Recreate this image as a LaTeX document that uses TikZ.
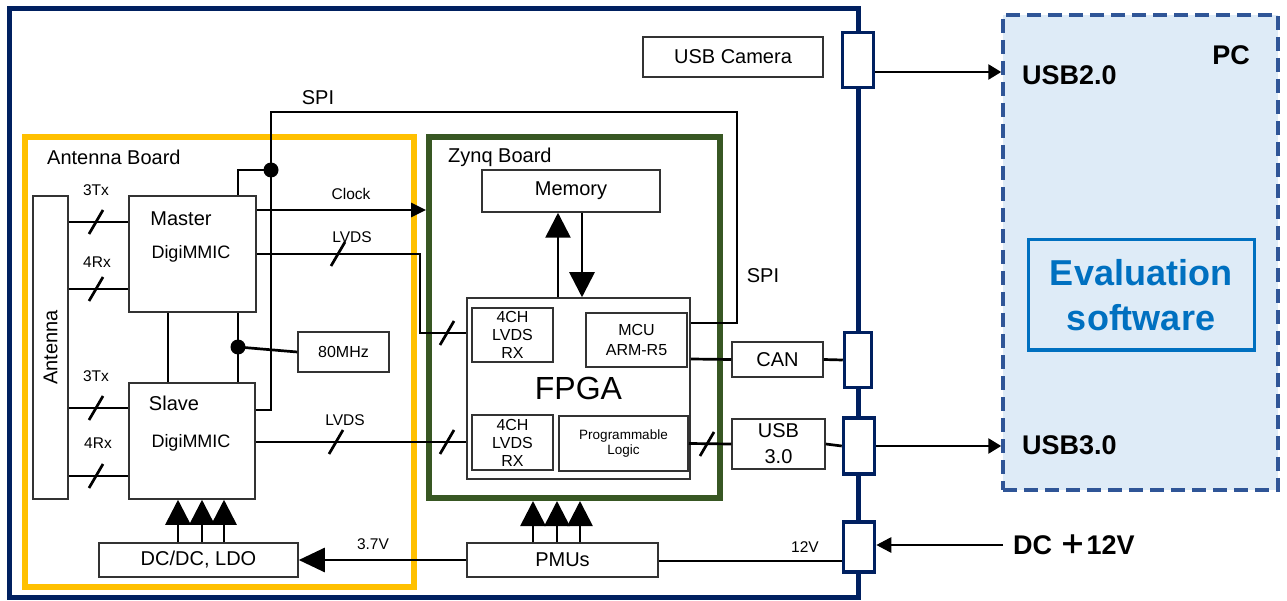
\documentclass[tikz,border=0pt]{standalone}
\usepackage{fontspec}
\setmainfont{Liberation Sans}
\newfontfamily\cjk{Noto Sans CJK SC}
\usetikzlibrary{arrows.meta}
\definecolor{navy}{RGB}{0,32,96}
\definecolor{antyellow}{RGB}{255,192,0}
\definecolor{zynqgreen}{RGB}{56,87,35}
\definecolor{pcfill}{RGB}{222,235,247}
\definecolor{pcline}{RGB}{47,85,151}
\definecolor{evblue}{RGB}{0,112,192}

\begin{document}
\begin{tikzpicture}[x=1pt,y=-1pt,font=\fontsize{20}{24}\selectfont,
  box/.style={draw=black!80,line width=1.5pt,fill=white,inner sep=0pt,align=center},
  port/.style={draw=navy,line width=3.5pt,fill=white,inner sep=0pt},
  board/.style={line width=6pt,inner sep=0pt},
  sig/.style={line width=2.7pt},
  lbl/.style={font=\fontsize{15.5}{18}\selectfont,inner sep=0pt},
  cell/.style={box,font=\fontsize{16}{18}\selectfont},
  txt/.style={inner sep=0pt},
  bold/.style={inner sep=0pt,font=\bfseries\fontsize{27}{30}\selectfont},
  pwr/.style={sig,-{Triangle[length=25pt,width=25pt]}},
  bus/.pic={\draw[sig] (-7,12) -- (7,-12);}]

\useasboundingbox (0,0) rectangle (1287,601);

% sensor casing
\draw[navy,line width=5pt] (9,9) rectangle (858,597);

% boards
\node[board,draw=antyellow,minimum width=389pt,minimum height=450pt] (antb) at (219.5,362) {};
\node[board,draw=zynqgreen,minimum width=291pt,minimum height=361pt] (zynqb) at (574.5,317.5) {};
\node[txt,anchor=west] (antbt) at (47,157) {Antenna Board};
\node[txt,anchor=west] (zynqbt) at (448,157) {Zynq Board};

% antenna board
\node[box,minimum width=35pt,minimum height=303pt] (ant) at (50.5,347.5) {};
\node[txt,rotate=90] (antt) at (ant.center) {Antenna};
\node[box,minimum width=127pt,minimum height=116pt] (master) at (192.5,254) {};
\node[txt] (mastert) at (181,219) {Master};
\node[txt,font=\fontsize{18}{20}\selectfont] (masterd) at (191,254) {DigiMMIC};
\node[box,minimum width=126pt,minimum height=116pt] (slave) at (192,441) {};
\node[txt] (slavet) at (174,403) {Slave};
\node[txt,font=\fontsize{18}{20}\selectfont] (slaved) at (191,443) {DigiMMIC};
\node[box,minimum width=91pt,minimum height=40pt,font=\fontsize{16}{18}\selectfont] (osc) at (343.5,352) {80MHz};
\node[box,minimum width=199pt,minimum height=34pt] (dcdc) at (198.5,560) {DC/DC, LDO};

% zynq board
\node[box,minimum width=178pt,minimum height=42pt] (mem) at (571,191) {Memory};
\node[box,minimum width=223pt,minimum height=181pt,font=\fontsize{32}{36}\selectfont] (fpga) at (578.5,388.5) {FPGA};
\node[cell,minimum width=81pt,minimum height=54pt] (rx1) at (512.5,335) {4CH\\LVDS\\RX};
\node[cell,minimum width=81pt,minimum height=55pt] (rx2) at (512.5,442.5) {4CH\\LVDS\\RX};
\node[cell,minimum width=101pt,minimum height=54pt,font=\fontsize{16}{20}\selectfont] (mcu) at (636.5,340) {MCU\\ARM-R5};
\node[cell,minimum width=129pt,minimum height=55pt,font=\fontsize{13.5}{15}\selectfont] (pl) at (623.5,443.5) {Programmable\\Logic};
\node[box,minimum width=191pt,minimum height=34pt] (pmu) at (562.5,560) {PMUs};

% interfaces
\node[box,minimum width=180pt,minimum height=40pt] (cam) at (733,57) {USB Camera};
\node[box,minimum width=91pt,minimum height=35pt] (can) at (777.5,359.5) {CAN};
\node[box,minimum width=93pt,minimum height=50pt,font=\fontsize{20}{26}\selectfont] (usb3) at (778.5,444) {USB\\3.0};
\node[port,minimum width=31pt,minimum height=55pt] (cusb2) at (858,60) {};
\node[port,minimum width=27pt,minimum height=55pt] (ccan) at (858,360) {};
\node[port,minimum width=31pt,minimum height=56pt] (cusb3) at (859,446) {};
\node[port,minimum width=31pt,minimum height=50pt] (cdc) at (859,547) {};

% PC
\node[draw=pcline,fill=pcfill,line width=3.5pt,dash pattern=on 14pt off 7pt,
  minimum width=275pt,minimum height=475pt] (pc) at (1140.5,252.5) {};
\node[bold] (pct) at (1231,55) {PC};
\node[bold,anchor=west] (pcusb2) at (1022,75) {USB2.0};
\node[bold,anchor=west] (pcusb3) at (1022,445) {USB3.0};
\node[draw=evblue,line width=3pt,minimum width=226pt,minimum height=110pt,text=evblue,
  align=center,font=\bfseries\fontsize{36}{45}\selectfont] (eval) at (1141,295) {Evaluation\\software};
\node[bold,anchor=west] (dclbl) at (1013,545) {DC\ {\cjk ＋}12V};
\coordinate (dcin) at (1003,545);

% Tx / Rx buses
\foreach \y/\chip in {222/master,289/master,408/slave,476/slave}{
  \draw[sig] (ant.east |- 0,\y) -- (\chip.west |- 0,\y);
  \pic at (96,\y) {bus};
}
\node[lbl] (tx1) at (96,190) {3Tx};
\node[lbl] (rx1l) at (97,262) {4Rx};
\node[lbl] (tx2) at (96,376) {3Tx};
\node[lbl] (rx2l) at (98,443) {4Rx};

% master/slave links, clock, SPI
\coordinate (clkdot) at (238,347);
\coordinate (spidot) at (271,170);
\draw[sig] (master.south -| 168,0) -- (slave.north -| 168,0);
\draw[sig] (master.south -| 238,0) -- (slave.north -| 238,0);
\draw[sig] (clkdot) -- (osc.west);
\fill (clkdot) circle (7.5);
\draw[sig] (master.north -| 238,0) |- (spidot);
\draw[sig] (slave.east |- 0,410) -| (271,112) -| (737,323) -- (fpga.east |- 0,323);
\fill (spidot) circle (7.5);
\node[txt] (spi1) at (318,98) {SPI};
\node[txt] (spi2) at (763,276) {SPI};
\draw[sig,-{Triangle[length=15pt,width=14pt]}] (master.east |- 0,210) -- (zynqb.west |- 0,210);
\node[lbl] (clk) at (351,194) {Clock};

% LVDS
\draw[sig] (master.east |- 0,254) -| (420,333) -- (fpga.west |- 0,333);
\pic at (338,254) {bus};
\pic at (447,333) {bus};
\node[lbl] (lvds1) at (352,237) {LVDS};
\draw[sig] (slave.east |- 0,442) -- (fpga.west |- 0,442);
\pic at (336,442) {bus};
\pic at (447,442) {bus};
\node[lbl] (lvds2) at (345,420) {LVDS};

% memory
\draw[sig,-{Triangle[length=25pt,width=25pt]}] (fpga.north -| 558,0) -- (mem.south -| 558,0);
\draw[sig,-{Triangle[length=25pt,width=25pt]}] (mem.south -| 582,0) -- (fpga.north -| 582,0);

% outputs
\draw[sig] (fpga.east |- 0,359) -- (can.west);
\draw[sig] (can.east) -- (ccan.west);
\draw[sig] (pl.east) -- (usb3.west);
\pic at (707,444) {bus};
\draw[sig] (usb3.east) -- (cusb3.west);
\draw[sig,-{Triangle[length=13pt,width=15pt]}] (cusb2.east |- 0,72) -- (pc.west |- 0,72);
\draw[sig,-{Triangle[length=13pt,width=15pt]}] (cusb3.east) -- (pc.west |- cusb3.east);

% power
\draw[sig,-{Triangle[length=15pt,width=15pt]}] (dcin) -- (cdc.east |- dcin);
\draw[sig] (cdc.west |- 0,561) -- (pmu.east |- 0,561);
\node[lbl] (v12) at (805,547) {12V};
\draw[sig,-{Triangle[length=26pt,width=24pt]}] (pmu.west) -- (dcdc.east);
\node[lbl] (v37) at (373,544) {3.7V};
\foreach \x in {178,202,224}
  \draw[pwr] (dcdc.north -| \x,0) -- (slave.south -| \x,0);
\foreach \x in {533,557,580}
  \draw[pwr] (pmu.north -| \x,0) -- (zynqb.south -| \x,0);

\end{tikzpicture}
\end{document}
